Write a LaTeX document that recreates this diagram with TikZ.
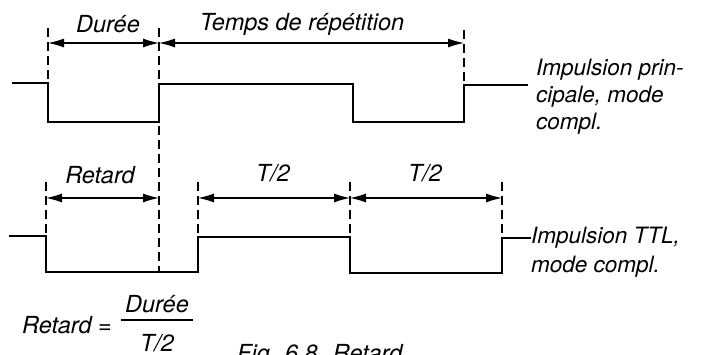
\documentclass[tikz,border=0pt]{standalone}
\usepackage{fontspec}
\setmainfont{TeX Gyre Heros}
\usetikzlibrary{arrows.meta}
\begin{document}
\begin{tikzpicture}[x=1pt,y=-1pt,
  wave/.style={line width=2.8pt, line join=miter},
  guide/.style={line width=1.4pt, dash pattern=on 9pt off 5pt},
  dimarrow/.style={line width=1.2pt, {Latex[length=16pt,width=9pt]}-{Latex[length=16pt,width=9pt]}},
  lbl/.style={font=\fontsize{23.5}{27}\selectfont\itshape, inner sep=0pt},
  side/.style={lbl, anchor=west, align=left}]
\useasboundingbox (0,0) rectangle (702,354);

% labels
\node[lbl] (duree) at (108,24) {Durée};
\node[lbl] (temps) at (302,24) {Temps de répétition};
\node[lbl] (retard) at (100,175) {Retard};
\node[lbl] (thalfa) at (273,173) {T/2};
\node[lbl] (thalfb) at (425,173) {T/2};
\node[side, font=\fontsize{22.5}{27}\selectfont\itshape] (main) at (536,97) {Impulsion prin-\\cipale, mode\\compl.};
\node[side, font=\fontsize{22.5}{29}\selectfont\itshape] (ttl) at (531,252) {Impulsion TTL,\\mode compl.};

% top waveform
\coordinate (a0) at (12,83);
\coordinate (a9) at (528,85);
\draw[wave] (a0) -- (48,83) -- (48,122) -- (159,122) -- (159,84) -- (353,84) -- (353,122) -- (464,122) -- (464,85) -- (a9);

% bottom waveform
\coordinate (b0) at (9,236);
\coordinate (b9) at (ttl.west |- 0,238);
\draw[wave] (b0) -- (46,236) -- (46,272) -- (198,272) -- (198,237) -- (350,237) -- (350,273) -- (502,273) -- (502,238) -- (b9);

% guides
\coordinate (g1t) at (48,28);  \coordinate (g1b) at (48,83);
\coordinate (g2t) at (159,28); \coordinate (g2b) at (159,272);
\coordinate (g3t) at (464,30); \coordinate (g3b) at (464,85);
\coordinate (h1t) at (46,182); \coordinate (h1b) at (46,236);
\coordinate (h2t) at (198,182); \coordinate (h2b) at (198,237);
\coordinate (h3t) at (350,182); \coordinate (h3b) at (350,237);
\coordinate (h4t) at (502,182); \coordinate (h4b) at (502,238);
\foreach \g in {g1,g2,g3,h1,h2,h3,h4} \draw[guide] (\g t) -- (\g b);

% dimension arrows
\coordinate (d1) at (48,43); \coordinate (d2) at (159,43); \coordinate (d3) at (464,43);
\draw[dimarrow] (d1) -- (d2);
\draw[dimarrow] (d2) -- (d3);
\coordinate (e1) at (46,198); \coordinate (e2) at (159,198);
\coordinate (e3) at (198,198); \coordinate (e4) at (350,198); \coordinate (e5) at (502,198);
\draw[dimarrow] (e1) -- (e2);
\draw[dimarrow] (e3) -- (e4);
\draw[dimarrow] (e4) -- (e5);

% formula
\node[lbl, anchor=east] (fl) at (112,325) {Retard =};
\node[lbl] (fnum) at (157,304) {Durée};
\node[lbl] (fden) at (157,343) {T/2};
\coordinate (bar1) at (121,320); \coordinate (bar2) at (193,320);
\draw[line width=1.1pt] (bar1) -- (bar2);

% caption (cut by the page edge as in the reference)
\node[lbl, anchor=north west] (cap) at (237,344) {Fig. 6.8. Retard};
\end{tikzpicture}
\end{document}
